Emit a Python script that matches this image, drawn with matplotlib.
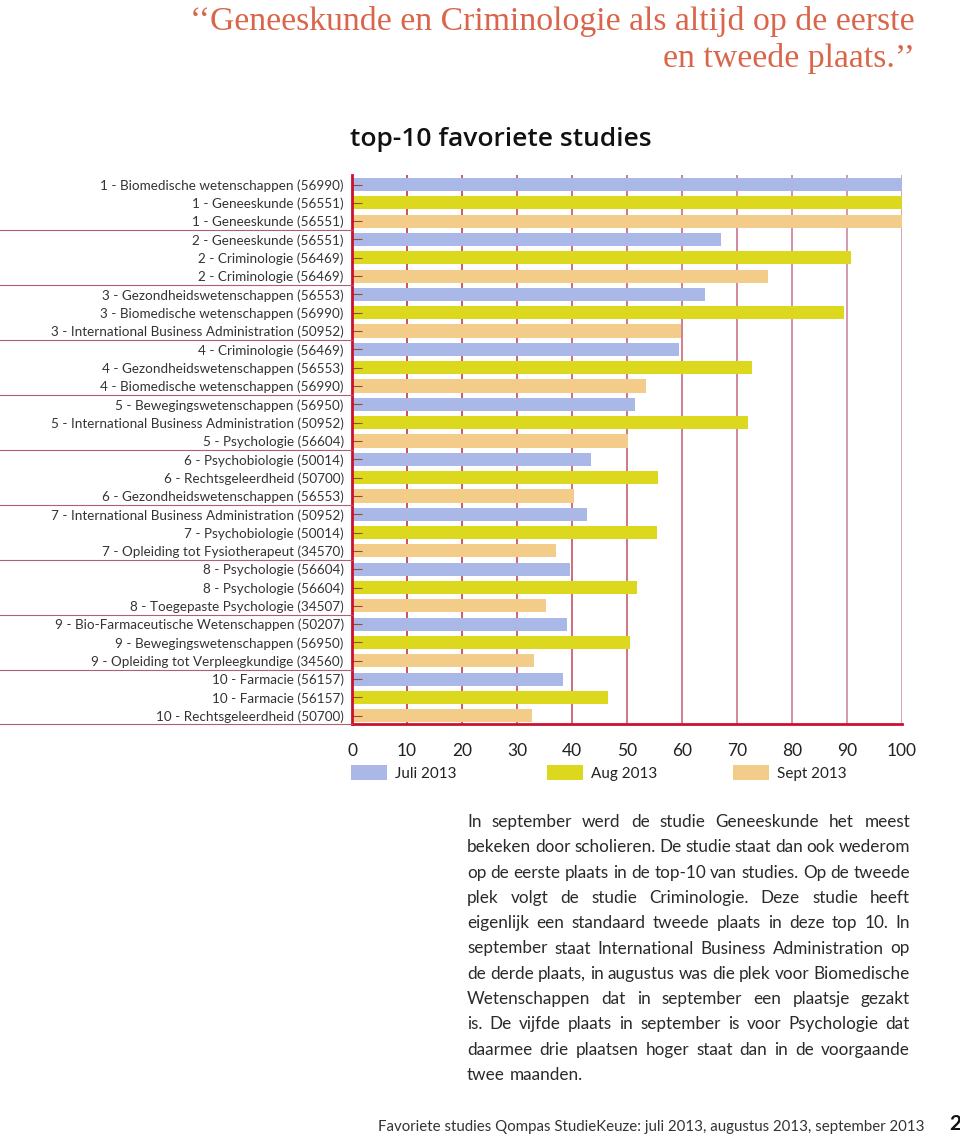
import numpy as np
import matplotlib
matplotlib.use("Agg")
import matplotlib.pyplot as plt
import matplotlib.patches as patches
from matplotlib.colors import to_rgb
from matplotlib.transforms import blended_transform_factory

# ----------------------------------------------------------------------
# data: top-10 per maand (index = rank - 1)
# ----------------------------------------------------------------------
months = ["Juli 2013", "Aug 2013", "Sept 2013"]
month_colors = ["#aab8e8", "#dcd81e", "#f2cc88"]

juli_labels = [
    "1 - Biomedische wetenschappen (56990)",
    "2 - Geneeskunde (56551)",
    "3 - Gezondheidswetenschappen (56553)",
    "4 - Criminologie (56469)",
    "5 - Bewegingswetenschappen (56950)",
    "6 - Psychobiologie (50014)",
    "7 - International Business Administration (50952)",
    "8 - Psychologie (56604)",
    "9 - Bio-Farmaceutische Wetenschappen (50207)",
    "10 - Farmacie (56157)",
]
aug_labels = [
    "1 - Geneeskunde (56551)",
    "2 - Criminologie (56469)",
    "3 - Biomedische wetenschappen (56990)",
    "4 - Gezondheidswetenschappen (56553)",
    "5 - International Business Administration (50952)",
    "6 - Rechtsgeleerdheid (50700)",
    "7 - Psychobiologie (50014)",
    "8 - Psychologie (56604)",
    "9 - Bewegingswetenschappen (56950)",
    "10 - Farmacie (56157)",
]
sept_labels = [
    "1 - Geneeskunde (56551)",
    "2 - Criminologie (56469)",
    "3 - International Business Administration (50952)",
    "4 - Biomedische wetenschappen (56990)",
    "5 - Psychologie (56604)",
    "6 - Gezondheidswetenschappen (56553)",
    "7 - Opleiding tot Fysiotherapeut (34570)",
    "8 - Toegepaste Psychologie (34507)",
    "9 - Opleiding tot Verpleegkundige (34560)",
    "10 - Rechtsgeleerdheid (50700)",
]

juli_values = [100, 67.1, 64.2, 59.4, 51.5, 43.4, 42.7, 39.6, 39.0, 38.4]
aug_values = [100, 90.7, 89.5, 72.8, 72.0, 55.7, 55.4, 51.9, 50.5, 46.5]
sept_values = [100, 75.6, 59.9, 53.5, 50.1, 40.3, 37.0, 35.3, 33.1, 32.7]

x_ticks = [0, 10, 20, 30, 40, 50, 60, 70, 80, 90, 100]

quote_lines = ["\u2018\u2018Geneeskunde en Criminologie als altijd op de eerste",
               "en tweede plaats.\u2019\u2019"]
chart_title = "top-10 favoriete studies"

paragraph = [
    "In september werd de studie Geneeskunde het meest",
    "bekeken door scholieren. De studie staat dan ook wederom",
    "op de eerste plaats in de top-10 van studies. Op de tweede",
    "plek volgt de studie Criminologie. Deze studie heeft",
    "eigenlijk een standaard tweede plaats in deze top 10. In",
    "september staat International Business Administration op",
    "de derde plaats, in augustus was die plek voor Biomedische",
    "Wetenschappen dat in september een plaatsje gezakt",
    "is. De vijfde plaats in september is voor Psychologie dat",
    "daarmee drie plaatsen hoger staat dan in de voorgaande",
    "twee maanden.",
]
footer = "Favoriete studies Qompas StudieKeuze: juli 2013, augustus 2013, september 2013"
page_no = "2"

SANS = ["Lato", "DejaVu Sans"]
W, H = 960, 1140


def justify(fig, lines, x0, x1, y0, dy, size, color):
    # woorden los plaatsen zodat elke regel (behalve de laatste) uitgevuld is
    r = fig.canvas.get_renderer()
    probe = fig.text(0, 0, "a a", fontsize=size, family=SANS)
    probe2 = fig.text(0, 0, "aa", fontsize=size, family=SANS)
    space = probe.get_window_extent(r).width - probe2.get_window_extent(r).width
    probe.remove()
    probe2.remove()
    for i, line in enumerate(lines):
        words = line.split()
        y = y0 + i * dy
        texts = [fig.text(0, 1 - y / H, w, fontsize=size, family=SANS, color=color,
                          va="baseline", ha="left") for w in words]
        widths = [t.get_window_extent(r).width for t in texts]
        if i < len(lines) - 1 and len(words) > 1:
            gap = (x1 - x0 - sum(widths)) / (len(words) - 1)
        else:
            gap = space
        x = x0
        for t, w in zip(texts, widths):
            t.set_x(x / W)
            x += w + gap


fig = plt.figure(figsize=(W / 100, H / 100), dpi=100)
fig.patch.set_facecolor("white")

# axes in pixel-layout van het origineel
ax_l, ax_r, ax_t, ax_b = 352, 902, 175, 724
ax = fig.add_axes([ax_l / W, 1 - ax_b / H, (ax_r - ax_l) / W, (ax_b - ax_t) / H])

labels, values, colors = [], [], []
for k in range(len(juli_labels)):
    for lab, val, c in ((juli_labels[k], juli_values[k], month_colors[0]),
                        (aug_labels[k], aug_values[k], month_colors[1]),
                        (sept_labels[k], sept_values[k], month_colors[2])):
        labels.append(lab)
        values.append(val)
        colors.append(c)

ypos = np.arange(len(labels))
ax.barh(ypos, values, height=0.72, color=colors, zorder=1)

ax.set_xlim(0, 100)
ax.set_ylim(len(labels) - 0.55, -0.52)

# verticale rasterlijnen: van rood naar mauve
c0, c1 = np.array(to_rgb("#c0242e")), np.array(to_rgb("#c98aa6"))
for j, xv in enumerate(x_ticks[1:]):
    f = j / (len(x_ticks) - 2)
    ax.axvline(xv, color=tuple(c0 * (1 - f) + c1 * f), lw=1.1, zorder=0.5)

for side in ("top", "right"):
    ax.spines[side].set_visible(False)
for side in ("left", "bottom"):
    ax.spines[side].set_color("#cc1030")
    ax.spines[side].set_linewidth(2.0)

ax.set_yticks(ypos)
ax.set_yticklabels(labels, family=SANS, fontsize=9.7, color="#333333")
ax.tick_params(axis="y", direction="in", length=7, width=0.8, color="#9c4a2c", pad=6)

ax.set_xticks(x_ticks)
ax.set_xticklabels([str(v) for v in x_ticks], family=SANS, fontsize=12.5, color="#222222")
ax.tick_params(axis="x", length=0, pad=14)

# scheidingslijnen tussen de rangnummers, links van de as
tr = blended_transform_factory(ax.transAxes, ax.transData)
seps = list(np.arange(2.5, len(labels) - 1, 3)) + [len(labels) - 0.55]
for ys in seps:
    ax.plot([-ax_l / (ax_r - ax_l), 0], [ys, ys], transform=tr, color="#b06070",
            lw=0.8, clip_on=False, zorder=3)

# legenda
leg_x = [351, 547, 733]
for name, c, lx in zip(months, month_colors, leg_x):
    fig.patches.append(patches.Rectangle((lx / W, 1 - 780 / H), 36 / W, 15 / H,
                                         facecolor=c, edgecolor="none",
                                         transform=fig.transFigure, figure=fig))
    fig.text((lx + 44) / W, 1 - 774 / H, name, family=SANS, fontsize=11,
             color="#222222", va="center", ha="left")

# koppen
for i, line in enumerate(quote_lines):
    fig.text(915 / W, 1 - (30 + 37 * i) / H, line, family=["Liberation Serif", "DejaVu Serif"],
             fontsize=24.3, color="#d9664a", ha="right", va="baseline")
fig.text(350 / W, 1 - 140 / H, chart_title, family=["Open Sans", "DejaVu Sans"],
         fontsize=19, weight="semibold", color="#111111", ha="left", va="center")

justify(fig, paragraph, 467, 910, 827, 25.3, 12.3, "#2a2a2a")

fig.text(925 / W, 1 - 1127 / H, footer, family=SANS, fontsize=10.8, color="#333333",
         ha="right", va="center")
fig.text(955 / W, 1 - 1124 / H, page_no, family=SANS, fontsize=15, weight="bold",
         color="#111111", ha="center", va="center")

fig.savefig("out.png", dpi=100, facecolor="white")
